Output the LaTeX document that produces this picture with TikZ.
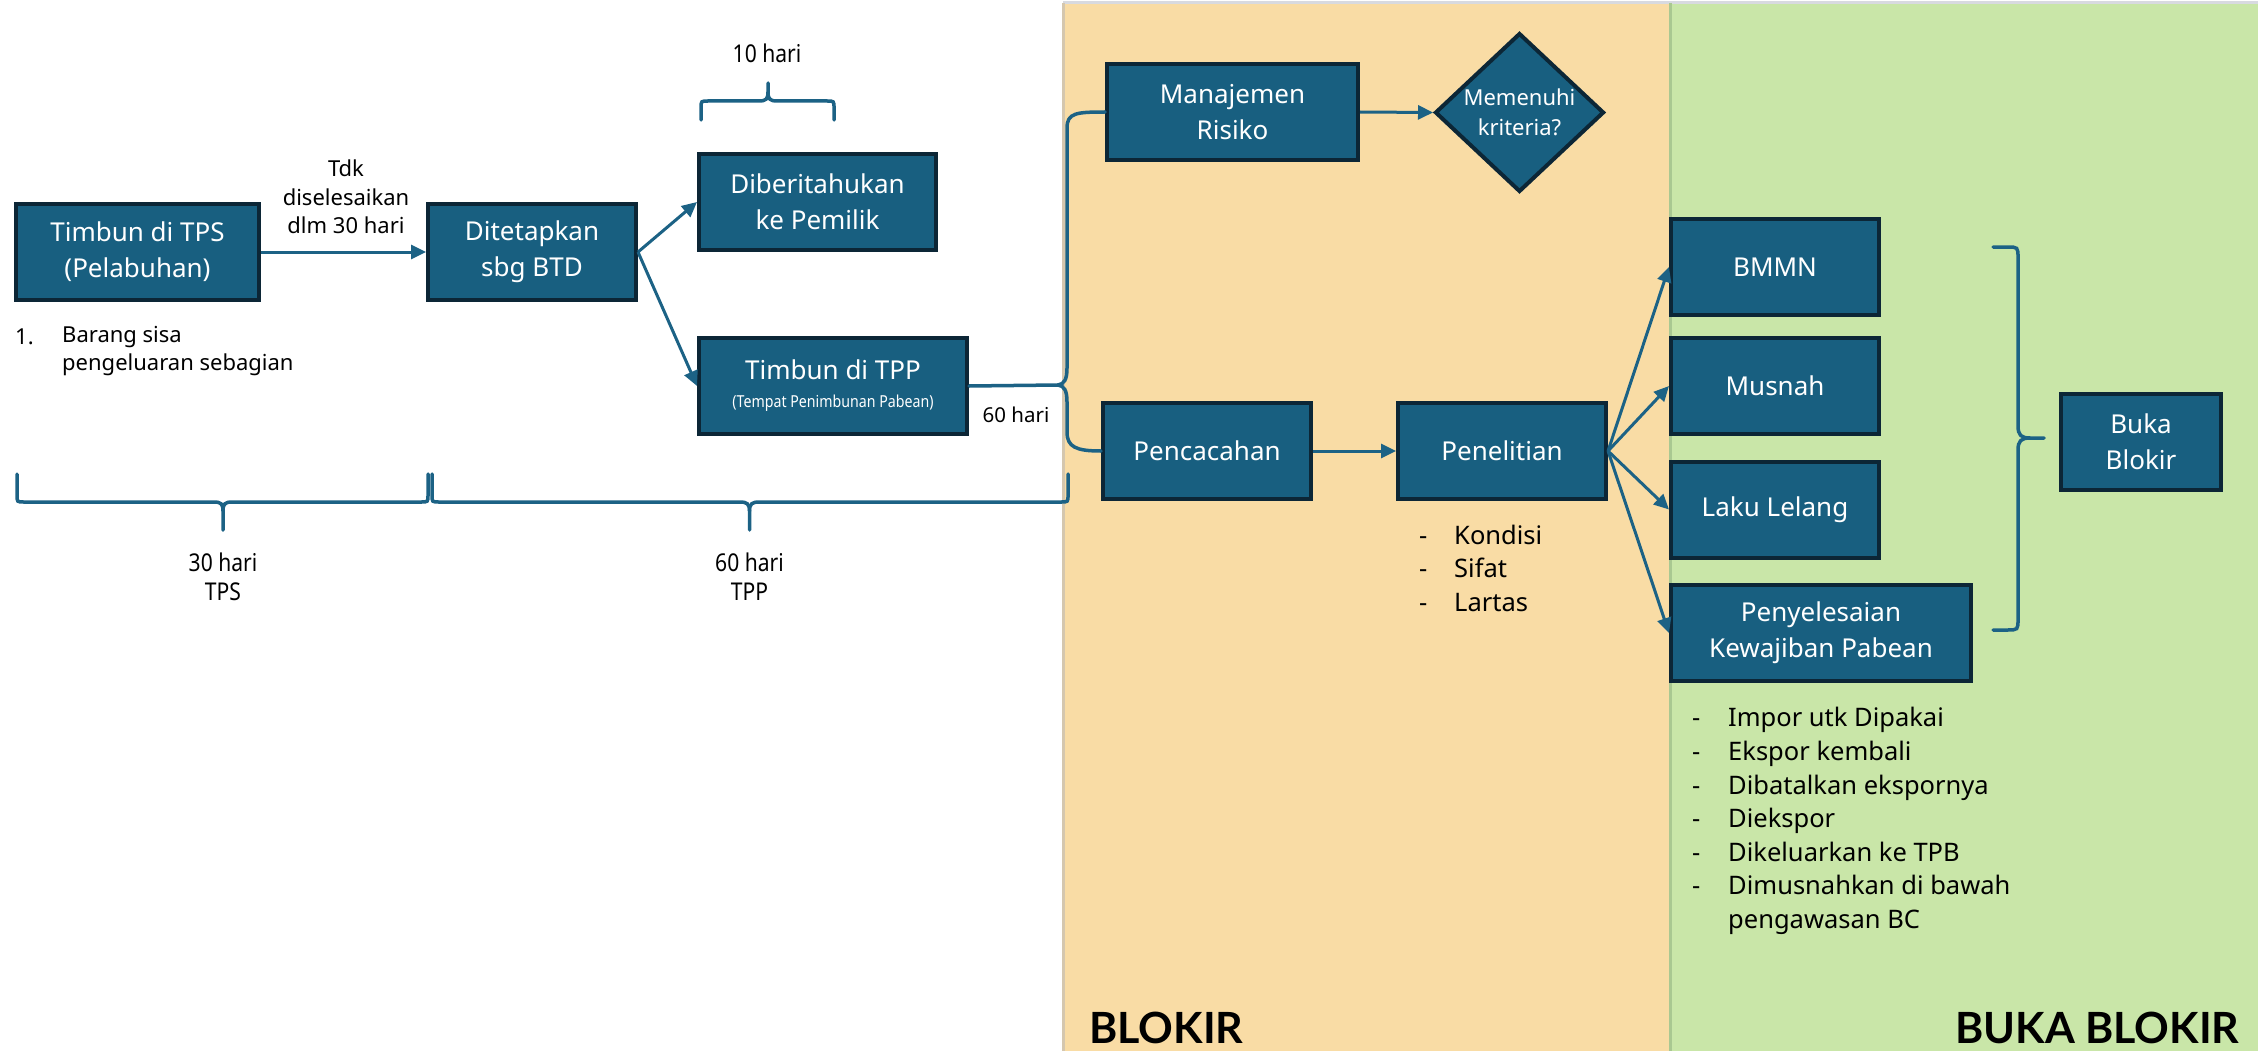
\documentclass[tikz,border=0pt]{standalone}
\usepackage{fontspec}
\setmainfont{Noto Sans}
\newfontfamily\narrowfont[FakeStretch=0.86]{Noto Sans}
\newfontfamily\titlefont{Lato}
\usetikzlibrary{shapes.geometric,arrows.meta,calc}
\definecolor{boxfill}{HTML}{185F80}
\definecolor{boxline}{HTML}{0C2636}
\definecolor{conn}{HTML}{1C6285}
\definecolor{orangebg}{HTML}{F9DCA5}
\definecolor{greenbg}{HTML}{C9E6A8}
\definecolor{orangeedge}{HTML}{D5C7AE}
\definecolor{greenedge}{HTML}{A9C891}
\definecolor{topedge}{HTML}{D8DAE0}
\tikzset{
  box/.style={draw=boxline, fill=boxfill, line width=4pt, text=white, align=center,
    inner sep=0pt, font=\fontsize{26}{36}\selectfont, minimum height=96pt},
  dia/.style={diamond, draw=boxline, fill=boxfill, line width=4pt, text=white, align=center,
    inner sep=0pt, font=\fontsize{22}{30}\selectfont, minimum width=169pt, minimum height=150pt},
  conn/.style={draw=conn, line width=3pt, -{Triangle[length=15pt,width=14pt]}},
  bracel/.style={draw=conn, line width=3.5pt, line cap=round},
  lbl/.style={inner sep=0pt, text=black, font=\fontsize{22}{28.5}\selectfont, align=center},
  nlbl/.style={inner sep=0pt, text=black, font=\narrowfont\fontsize{24.5}{29}\selectfont, align=center},
  listtxt/.style={inner sep=0pt, text=black, font=\fontsize{25.5}{33.6}\selectfont, align=left, anchor=west},
  title/.style={inner sep=0pt, text=black, font=\titlefont\bfseries\fontsize{43}{46}\selectfont, anchor=base west}
}
\begin{document}
\begin{tikzpicture}[x=1pt,y=-1pt]
\useasboundingbox (0,0) rectangle (2258,1051);
\fill[white] (0,0) rectangle (2258,1051);
% panels
\fill[orangebg] (1063,4) rectangle (1670,1051);
\fill[greenbg] (1670,4) rectangle (2258,1051);
\draw[topedge, line width=3pt] (1063,3) -- (2258,3);
\draw[orangeedge, line width=3pt] (1063,3) -- (1063,1051);
\draw[greenedge, line width=3pt] (1670,3) -- (1670,1051);
\node[title] (blokir) at (1089,1043) {BLOKIR};
\node[title] (bukablokir) at (1955,1043) {BUKA BLOKIR};

% boxes
\node[box, minimum width=243pt] (tps) at (137.5,252) {Timbun di TPS\\(Pelabuhan)};
\node[box, minimum width=208pt] (btd) at (532,252) {Ditetapkan\\sbg BTD};
\node[box, minimum width=237pt] (pemilik) at (817.5,202) {Diberitahukan\\ke Pemilik};
\node[box, minimum width=268pt] (tpp) at (833,386) {Timbun di TPP\\[-8pt]{\narrowfont\fontsize{16.5}{18}\selectfont (Tempat Penimbunan Pabean)}};
\node[box, minimum width=251pt] (mr) at (1232.5,112) {Manajemen\\Risiko};
\node[dia] (krit) at (1519.5,112.5) {Memenuhi\\kriteria?};
\node[box, minimum width=208pt] (penc) at (1207,451) {Pencacahan};
\node[box, minimum width=208pt] (pen) at (1502,451) {Penelitian};
\node[box, minimum width=208pt] (bmmn) at (1775,267) {BMMN};
\node[box, minimum width=208pt] (musnah) at (1775,386) {Musnah};
\node[box, minimum width=208pt] (laku) at (1775,509.5) {Laku Lelang};
\node[box, minimum width=300pt] (pkp) at (1821,633) {Penyelesaian\\Kewajiban Pabean};
\node[box, minimum width=160pt] (buka) at (2141,441.5) {Buka\\Blokir};

% connectors
\draw[conn] (tps.east) -- (btd.west);
\draw[conn] (btd.east) -- (pemilik.west);
\draw[conn] (btd.east) -- (tpp.west);
\draw[conn] (mr.east) -- (krit.west);
\draw[conn] (penc.east) -- (pen.west);
\draw[conn] (pen.east) -- (bmmn.west);
\draw[conn] (pen.east) -- (musnah.west);
\draw[conn] (pen.east) -- (laku.west);
\draw[conn] (pen.east) -- (pkp.west);

% labels
\node[lbl] (tdk) at (346,197) {Tdk\\diselesaikan\\dlm 30 hari};
\node[lbl, anchor=west] (num1) at (15,337) {1.};
\node[lbl, anchor=west, align=left] (barang) at (62,351) {Barang sisa\\pengeluaran sebagian};
\node[lbl, font=\fontsize{20.5}{24}\selectfont] (h60b) at (1016,415) {60 hari};
\node[nlbl] (h10) at (767,53) {10 hari};
\node[nlbl] (h30) at (223,577) {30 hari\\TPS};
\node[nlbl] (h60) at (749.5,577) {60 hari\\TPP};

% lists
\node[listtxt] (kdash) at (1419,571) {\strut-\\\strut-\\\strut-};
\node[listtxt] (klist) at (1454,571) {\strut Kondisi\\\strut Sifat\\\strut Lartas};
\node[listtxt] (bdash) at (1692,821) {\strut-\\\strut-\\\strut-\\\strut-\\\strut-\\\strut-\\\strut};
\node[listtxt] (blist) at (1728,821) {\strut Impor utk Dipakai\\\strut Ekspor kembali\\\strut Dibatalkan ekspornya\\\strut Diekspor\\\strut Dikeluarkan ke TPB\\\strut Dimusnahkan di bawah\\\strut pengawasan BC};

% top brace (10 hari)
\draw[bracel] (701,120) -- (701,108) .. controls (701,101) .. (708,101) -- (759,101)
  .. controls (766,101) and (768,99) .. (768,92) -- (768,83);
\draw[bracel] (768,92) .. controls (768,99) and (770,101) .. (777,101) -- (827,101)
  .. controls (834,101) .. (834,108) -- (834,120);

% bottom brace TPS
\draw[bracel] (17,474) -- (17,495) .. controls (17,502) .. (24,502) -- (214,502)
  .. controls (221,502) and (223,504) .. (223,511) -- (223,530);
\draw[bracel] (223,511) .. controls (223,504) and (225,502) .. (232,502) -- (421,502)
  .. controls (428,502) .. (428,495) -- (428,474);
% bottom brace TPP
\draw[bracel] (432,474) -- (432,495) .. controls (432,502) .. (439,502) -- (740,502)
  .. controls (747,502) and (749.5,504) .. (749.5,511) -- (749.5,530);
\draw[bracel] (749.5,511) .. controls (749.5,504) and (752,502) .. (759,502) -- (1061,502)
  .. controls (1068,502) .. (1068,495) -- (1068,474);

% left brace (TPP -> Manajemen Risiko / Pencacahan)
\coordinate (ltip) at (1058,385);
\draw[bracel] (mr.west) .. controls (1076,112) and (1067,113) .. (1067,128) -- (1067,368)
  .. controls (1067,380) and (1064,384) .. (ltip);
\draw[bracel] (ltip) .. controls (1064,386) and (1067,390) .. (1067,402) -- (1067,432)
  .. controls (1067,447) and (1076,451) .. (penc.west);
\draw[bracel] (tpp.east) -- (ltip);

% right brace (to Buka Blokir)
\coordinate (rtip) at (2044,438);
\draw[bracel] (1993,247) -- (2007,247) .. controls (2018,247) .. (2018,258) -- (2018,426)
  .. controls (2018,435) and (2021,438) .. (2030,438) -- (rtip);
\draw[bracel] (2030,438) .. controls (2021,438) and (2018,441) .. (2018,450) -- (2018,619)
  .. controls (2018,630) .. (2007,630) -- (1993,630);
\end{tikzpicture}
\end{document}
